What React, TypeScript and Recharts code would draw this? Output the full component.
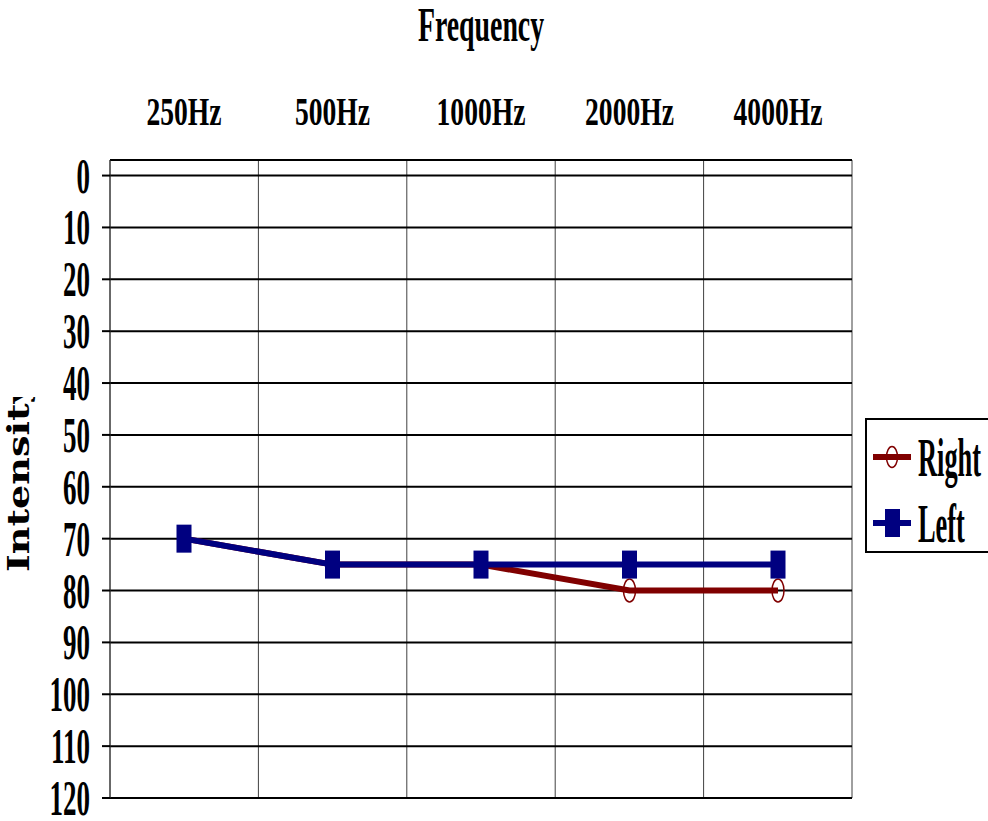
import React from 'react';
import {
  LineChart,
  Line,
  XAxis,
  YAxis,
  CartesianGrid,
  Legend
} from 'recharts';

const frequencies = ['250Hz', '500Hz', '1000Hz', '2000Hz', '4000Hz'];
const rightEar = [70, 75, 75, 80, 80];
const leftEar = [70, 75, 75, 75, 75];
const intensityTicks = [0, 10, 20, 30, 40, 50, 60, 70, 80, 90, 100, 110, 120];
const legendOrder = ['right', 'left'];

const RIGHT_COLOR = '#800000';
const LEFT_COLOR = '#000080';
const FONT = '"Liberation Serif", "Times New Roman", serif';

const data = frequencies.map((freq, i) => ({
  freq,
  right: rightEar[i],
  left: leftEar[i]
}));

// condensed bold serif text, squeezed horizontally like the original
const Squeezed = ({ x, y, size, sx, anchor, children }: any) => (
  <g transform={`translate(${x},${y}) scale(${sx},1)`}>
    <text x={0} y={0} textAnchor={anchor} fontFamily={FONT} fontWeight="bold" fontSize={size} fill="#000">
      {children}
    </text>
  </g>
);

const FreqTick = ({ x, y, payload }: any) => (
  <Squeezed x={x} y={y} size={40} sx={0.69} anchor="middle">{payload.value}</Squeezed>
);

const IntensityTick = ({ x, y, payload }: any) => (
  <Squeezed x={x} y={y + 17} size={50} sx={0.54} anchor="end">{payload.value}</Squeezed>
);

const TitleLabel = ({ viewBox }: any) => (
  <Squeezed x={viewBox.x + viewBox.width / 2} y={viewBox.y + 41} size={48} sx={0.58} anchor="middle">
    Frequency
  </Squeezed>
);

// rotated axis title, stretched along its length and cut off at the top like the source image
const IntensityLabel = ({ viewBox }: any) => {
  const bx = viewBox.x + 29;
  const by = viewBox.y + 412;
  return (
    <g>
      <defs>
        <clipPath id="ylabel-clip">
          <rect x={viewBox.x} y={viewBox.y + 237} width={60} height={300} />
        </clipPath>
      </defs>
      <g clipPath="url(#ylabel-clip)">
        <g transform={`translate(${bx},${by}) rotate(-90) scale(1.27,1)`}>
          <text x={0} y={0} fontFamily='"DejaVu Serif", serif' fontWeight="bold" fontSize={30} fill="#000">
            Intensity
          </text>
        </g>
      </g>
    </g>
  );
};

const RightDot = ({ cx, cy }: any) => (
  <ellipse cx={cx} cy={cy} rx={6} ry={11.5} fill="none" stroke={RIGHT_COLOR} strokeWidth={1.5} />
);

const LeftDot = ({ cx, cy }: any) => (
  <rect x={cx - 7.5} y={cy - 14} width={15} height={28} fill={LEFT_COLOR} />
);

const LegendBox = ({ payload }: any) => {
  const items = [...(payload || [])].sort(
    (a: any, b: any) => legendOrder.indexOf(a.dataKey) - legendOrder.indexOf(b.dataKey)
  );
  return (
    <div style={{ width: 130, height: 135, border: '2px solid #000', boxSizing: 'border-box', background: '#fff' }}>
      <svg width={128} height={131} style={{ display: 'block', overflow: 'visible' }}>
        {items.map((entry: any, i: number) => {
          const cy = 37 + i * 66;
          return (
            <g key={entry.value}>
              <line x1={6} x2={44} y1={cy} y2={cy} stroke={entry.color} strokeWidth={6} />
              {entry.dataKey === 'right' ? (
                <ellipse cx={25} cy={cy} rx={5.5} ry={10.5} fill="none" stroke={entry.color} strokeWidth={1.5} />
              ) : (
                <rect x={18} y={cy - 14} width={15} height={28} fill={entry.color} />
              )}
              <Squeezed x={51} y={cy + 19} size={55} sx={0.48} anchor="start">{entry.value}</Squeezed>
            </g>
          );
        })}
      </svg>
    </div>
  );
};

const verticalLines = ({ offset }: any) => {
  const left = offset?.left ?? 110;
  const width = offset?.width ?? 742;
  return Array.from({ length: frequencies.length + 1 }, (_, i) => left + (i * width) / frequencies.length);
};

export default function App() {
  return (
    <div style={{ position: 'absolute', left: 0, top: 0, width: 988, height: 821, overflow: 'hidden', background: '#fff' }}>
      <LineChart width={988} height={821} data={data} margin={{ top: 0, right: 136, bottom: 23, left: 0 }}>
        <CartesianGrid horizontal={false} stroke="#404040" strokeWidth={1} verticalCoordinatesGenerator={verticalLines} />
        <CartesianGrid vertical={false} stroke="#000" strokeWidth={2} />
        <XAxis
          dataKey="freq"
          orientation="top"
          height={160}
          axisLine={false}
          tickLine={false}
          tickSize={0}
          tickMargin={35}
          padding={{ left: 74, right: 74 }}
          tick={<FreqTick />}
          interval={0}
          label={(props: any) => <TitleLabel {...props} />}
        />
        <YAxis
          type="number"
          reversed
          width={110}
          domain={[-3, 120]}
          allowDataOverflow
          ticks={intensityTicks}
          interval={0}
          tickSize={8}
          tickMargin={12}
          axisLine={{ stroke: '#333', strokeWidth: 1 }}
          tickLine={{ stroke: '#000', strokeWidth: 2 }}
          tick={<IntensityTick />}
          label={(props: any) => <IntensityLabel {...props} />}
        />
        <Legend
          layout="horizontal"
          align="center"
          verticalAlign="middle"
          content={<LegendBox />}
          wrapperStyle={{ left: 865, top: 418, width: 130, height: 135 }}
        />
        <Line
          name="Right"
          dataKey="right"
          stroke={RIGHT_COLOR}
          strokeWidth={6}
          dot={<RightDot />}
          activeDot={false}
          isAnimationActive={false}
        />
        <Line
          name="Left"
          dataKey="left"
          stroke={LEFT_COLOR}
          strokeWidth={6}
          dot={<LeftDot />}
          activeDot={false}
          isAnimationActive={false}
        />
      </LineChart>
    </div>
  );
}
